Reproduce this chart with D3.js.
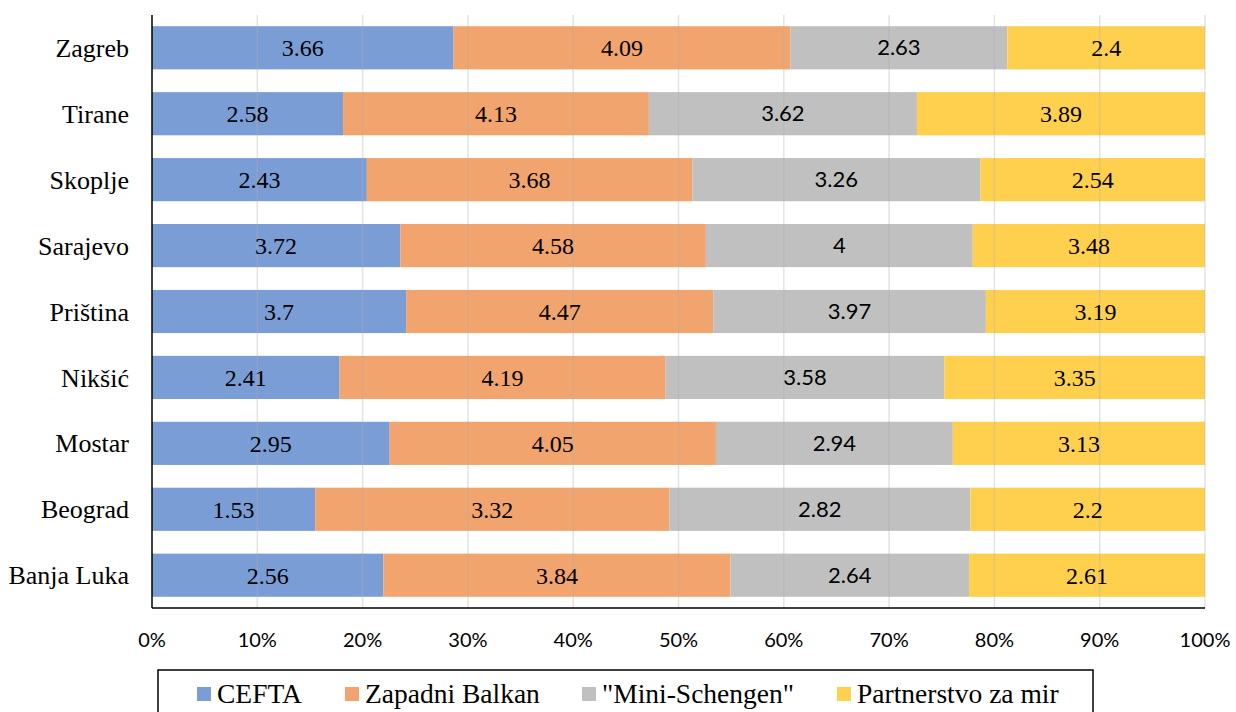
<!DOCTYPE html>
<html>
<head>
<meta charset="utf-8">
<script src="https://cdn.jsdelivr.net/npm/d3@7"></script>
<style>
  body { margin: 0; background: #fff; }
  svg { display: block; }
</style>
</head>
<body>
<div id="chart"></div>
<script>
const width = 1236;
const height = 712;

const cities = ["Zagreb", "Tirane", "Skoplje", "Sarajevo", "Priština", "Nikšić", "Mostar", "Beograd", "Banja Luka"];
const seriesNames = ["CEFTA", "Zapadni Balkan", "\"Mini-Schengen\"", "Partnerstvo za mir"];
const cefta = [3.66, 2.58, 2.43, 3.72, 3.7, 2.41, 2.95, 1.53, 2.56];
const zapadniBalkan = [4.09, 4.13, 3.68, 4.58, 4.47, 4.19, 4.05, 3.32, 3.84];
const miniSchengen = [2.63, 3.62, 3.26, 4, 3.97, 3.58, 2.94, 2.82, 2.64];
const partnerstvo = [2.4, 3.89, 2.54, 3.48, 3.19, 3.35, 3.13, 2.2, 2.61];
const ticks = [0, 0.1, 0.2, 0.3, 0.4, 0.5, 0.6, 0.7, 0.8, 0.9, 1];

const colors = ["#7b9dd5", "#f1a46e", "#c0c0c0", "#fed04e"];
const serif = "'Liberation Serif', 'Times New Roman', serif";
const sans = "Lato, 'Open Sans', sans-serif";
const labelFonts = [serif, serif, sans, serif];

const rows = cities.map((c, i) => ({
  city: c,
  v: [cefta[i], zapadniBalkan[i], miniSchengen[i], partnerstvo[i]]
}));
const table = rows.map(r => {
  const total = d3.sum(r.v);
  const o = { city: r.city };
  seriesNames.forEach((s, j) => { o[s] = r.v[j] / total; o[s + "_raw"] = r.v[j]; });
  return o;
});
const stacked = d3.stack().keys(seriesNames)(table);

const margin = { left: 152, right: 31, top: 15, bottom: 104 };

const x = d3.scaleLinear().domain([0, 1]).range([margin.left, width - margin.right]);
const y = d3.scaleBand().domain(cities).range([margin.top, height - margin.bottom]).paddingInner(0.345).paddingOuter(0.17);

const svg = d3.select("#chart").append("svg")
  .attr("width", width)
  .attr("height", height);

// bars
const layer = svg.selectAll(".layer")
  .data(stacked)
  .enter()
  .append("g")
  .attr("fill", (d, i) => colors[i]);

layer.selectAll("rect")
  .data(d => d)
  .enter()
  .append("rect")
  .attr("x", d => x(d[0]))
  .attr("y", d => y(d.data.city))
  .attr("width", d => x(d[1]) - x(d[0]))
  .attr("height", y.bandwidth());

// gridlines (drawn over the bars, faint)
svg.append("g")
  .selectAll("line")
  .data(ticks.slice(1))
  .enter()
  .append("line")
  .attr("x1", d => x(d)).attr("x2", d => x(d))
  .attr("y1", margin.top).attr("y2", height - margin.bottom)
  .attr("stroke", "#b0b0b0")
  .attr("stroke-opacity", 0.35)
  .attr("stroke-width", 1.5);

// value labels
stacked.forEach((s, j) => {
  svg.append("g")
    .selectAll("text")
    .data(s)
    .enter()
    .append("text")
    .attr("x", d => (x(d[0]) + x(d[1])) / 2)
    .attr("y", d => y(d.data.city) + y.bandwidth() / 2)
    .attr("dy", "0.35em")
    .attr("text-anchor", "middle")
    .style("font-family", labelFonts[j])
    .style("font-size", (j === 2 ? 22 : 24) + "px")
    .attr("fill", "#000")
    .text(d => d.data[s.key + "_raw"]);
});

// y axis labels
svg.append("g")
  .selectAll("text")
  .data(cities)
  .enter()
  .append("text")
  .attr("x", margin.left - 23)
  .attr("y", d => y(d) + y.bandwidth() / 2)
  .attr("dy", "0.35em")
  .attr("text-anchor", "end")
  .style("font-family", serif)
  .style("font-size", "26px")
  .attr("fill", "#000")
  .text(d => d);

// x tick labels
svg.append("g")
  .selectAll("text")
  .data(ticks)
  .enter()
  .append("text")
  .attr("x", d => x(d))
  .attr("y", 640)
  .attr("dy", "0.35em")
  .attr("text-anchor", "middle")
  .style("font-family", sans)
  .style("font-size", "20px")
  .attr("fill", "#000")
  .text(d => d3.format(".0%")(d));

// axis lines
svg.append("line")
  .attr("x1", margin.left).attr("x2", margin.left)
  .attr("y1", margin.top).attr("y2", height - margin.bottom)
  .attr("stroke", "#000").attr("stroke-width", 1.5);
svg.append("line")
  .attr("x1", margin.left).attr("x2", width - margin.right)
  .attr("y1", height - margin.bottom).attr("y2", height - margin.bottom)
  .attr("stroke", "#000").attr("stroke-width", 1.5);

// legend
const legend = svg.append("g");
legend.append("rect")
  .attr("x", 158).attr("y", 670)
  .attr("width", 935).attr("height", 60)
  .attr("fill", "none")
  .attr("stroke", "#000")
  .attr("stroke-width", 1.5);

const legendX = [197, 345, 582, 837];
const item = legend.selectAll(".item")
  .data(seriesNames)
  .enter()
  .append("g")
  .attr("transform", (d, i) => `translate(${legendX[i]},687)`);
item.append("rect")
  .attr("width", 14).attr("height", 14)
  .attr("fill", (d, i) => colors[i]);
item.append("text")
  .attr("x", 20)
  .attr("y", 16)
  .style("font-family", serif)
  .style("font-size", "27.5px")
  .attr("fill", "#000")
  .text(d => d);
</script>
</body>
</html>
